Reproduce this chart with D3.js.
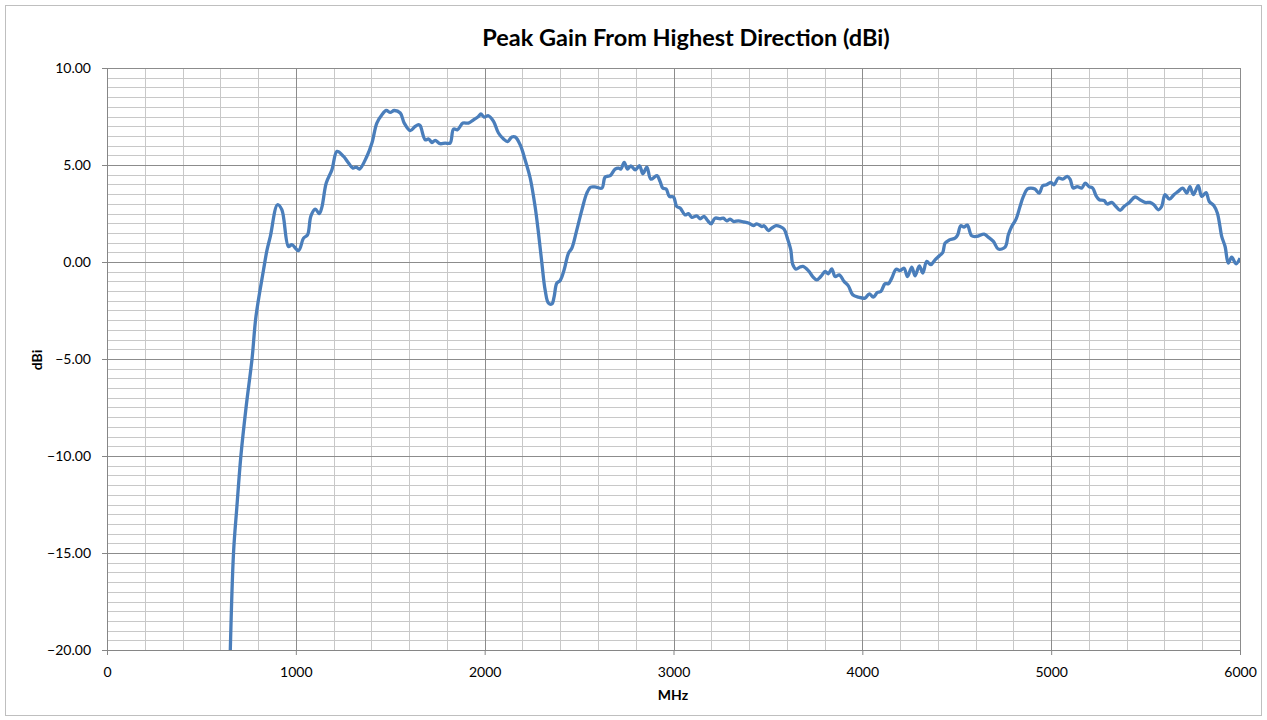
<!DOCTYPE html>
<html>
<head>
<meta charset="utf-8">
<script src="https://cdn.jsdelivr.net/npm/d3@7"></script>
<style>
  body { margin: 0; background: #fff; }
  text { font-family: Lato, 'Open Sans', sans-serif; fill: #000; }
</style>
</head>
<body>
<div id="chart"></div>
<script>
// frequency (MHz) and peak gain (dBi)
let mhz = [
  653, 670, 688, 709, 737, 768, 789, 829, 847, 865, 903, 926, 961, 979, 1014,
  1041, 1062, 1080, 1103, 1124, 1138, 1161, 1191, 1218, 1253, 1279, 1302, 1320,
  1337, 1376, 1403, 1429, 1456, 1479, 1500, 1521, 1553, 1574, 1606, 1632, 1650,
  1659, 1685, 1703, 1721, 1738, 1764, 1791, 1817, 1835, 1856, 1885, 1914, 1941,
  1967, 1980, 1997, 2020, 2047, 2073, 2100, 2121, 2144, 2162, 2188, 2214, 2241,
  2267, 2285, 2303, 2320, 2338, 2356, 2368, 2382, 2400, 2421, 2444, 2462, 2488,
  2515, 2541, 2562, 2590, 2621, 2638, 2665, 2691, 2709, 2721, 2739, 2756, 2774,
  2797, 2820, 2838, 2859, 2880, 2912, 2929, 2943, 2961, 2978, 3000, 3017, 3035,
  3061, 3079, 3097, 3123, 3141, 3162, 3180, 3199, 3220, 3247, 3264, 3282, 3300,
  3317, 3344, 3370, 3397, 3423, 3441, 3468, 3480, 3503, 3520, 3543, 3564, 3585,
  3603, 3621, 3632, 3649, 3670, 3685, 3714, 3737, 3759, 3780, 3803, 3820, 3838,
  3856, 3878, 3903, 3926, 3949, 3979, 4014, 4037, 4058, 4080, 4098, 4120, 4138,
  4156, 4179, 4200, 4221, 4239, 4262, 4279, 4302, 4320, 4341, 4362, 4385, 4408,
  4426, 4438, 4461, 4491, 4505, 4521, 4539, 4556, 4579, 4606, 4645, 4667, 4694,
  4720, 4756, 4773, 4791, 4814, 4835, 4853, 4874, 4892, 4914, 4937, 4955, 4976,
  4998, 5015, 5038, 5061, 5085, 5100, 5117, 5138, 5162, 5180, 5200, 5220, 5238,
  5255, 5280, 5297, 5321, 5343, 5365, 5386, 5414, 5444, 5470, 5497, 5523, 5544,
  5567, 5585, 5603, 5626, 5650, 5673, 5697, 5718, 5735, 5753, 5779, 5797, 5820,
  5837, 5862, 5880, 5894, 5903, 5921, 5938, 5956, 5979, 6000
]
let gain = [
  -20, -15, -12.6, -10, -7.45, -5, -2.8, -0.4, 0.6, 1.32, 2.95, 2.69, 0.8, 0.89, 0.59,
  1.23, 1.4, 2.38, 2.73, 2.49, 2.83, 4.07, 4.75, 5.7, 5.44, 5.1, 4.84, 4.89,
  4.79, 5.44, 6.13, 7.16, 7.59, 7.81, 7.71, 7.81, 7.68, 7.16, 6.77, 6.99, 7.08,
  7.02, 6.3, 6.34, 6.16, 6.27, 6.1, 6.13, 6.13, 6.85, 6.82, 7.16, 7.16, 7.33,
  7.5, 7.63, 7.47, 7.54, 7.25, 6.65, 6.34, 6.21, 6.44, 6.44, 6.04, 5.27, 4.33,
  2.86, 1.49, -0.06, -1.43, -2.12, -2.16, -1.78, -1.09, -0.95, -0.4, 0.46, 0.72, 1.66,
  2.69, 3.55, 3.86, 3.86, 3.81, 4.38, 4.45, 4.79, 4.84, 4.79, 5.13, 4.79, 4.96,
  4.75, 4.96, 4.55, 4.89, 4.27, 4.45, 4.15, 3.81, 3.76, 3.38, 3.35, 2.86, 2.78,
  2.43, 2.49, 2.3, 2.38, 2.23, 2.35, 2.14, 1.97, 2.26, 2.23, 2.26, 2.12, 2.21,
  2.09, 2.12, 2.07, 2.01, 1.88, 1.97, 1.83, 1.87, 1.62, 1.75, 1.87, 1.83, 1.7,
  1.23, 0.63, -0.14, -0.37, -0.26, -0.23, -0.44, -0.75, -0.92, -0.75, -0.49, -0.61, -0.35,
  -0.75, -0.66, -1.0, -1.23, -1.69, -1.81, -1.86, -1.64, -1.81, -1.57, -1.52, -1.12, -1.12,
  -0.83, -0.37, -0.44, -0.32, -0.75, -0.26, -0.71, -0.2, -0.57, 0.03, -0.14, 0.11, 0.32,
  0.49, 0.97, 1.14, 1.23, 1.4, 1.87, 1.8, 1.9, 1.35, 1.32, 1.44, 1.28, 1.06,
  0.67, 0.77, 1.4, 1.83, 2.21, 2.86, 3.38, 3.76, 3.81, 3.76, 3.55, 3.93, 3.98,
  4.1, 3.98, 4.33, 4.27, 4.41, 4.27, 3.81, 3.89, 3.81, 4.07, 3.89, 3.81, 3.41,
  3.21, 3.17, 2.99, 3.07, 2.86, 2.66, 2.86, 3.07, 3.35, 3.21, 3.07, 3.07, 2.95,
  2.69, 2.86, 3.47, 3.24, 3.47, 3.64, 3.81, 3.55, 3.89, 3.47, 3.93, 3.38, 3.58,
  3.12, 2.9, 2.52, 1.83, 1.32, 0.8, -0.06, 0.25, -0.09, 0.2
]

let xTicks = [0, 1000, 2000, 3000, 4000, 5000, 6000]
let yTicks = [-20, -15, -10, -5, 0, 5, 10]

let svgWidth = 1267
let svgHeight = 720
let margin = { top: 68, left: 107, right: 27, bottom: 70 }
let width = svgWidth - margin.left - margin.right
let height = svgHeight - margin.top - margin.bottom

let root = d3
  .select('#chart')
  .append('svg')
  .attr('width', svgWidth)
  .attr('height', svgHeight)

// chart border
root
  .append('rect')
  .attr('x', 5.5)
  .attr('y', 5.5)
  .attr('width', 1256)
  .attr('height', 710)
  .attr('fill', '#fff')
  .attr('stroke', '#bfbfbf')

let svg = root
  .append('g')
  .attr('transform', 'translate(' + margin.left + ',' + margin.top + ')')

let xPositionScale = d3.scaleLinear().domain([0, 6000]).range([0, width])
let yPositionScale = d3.scaleLinear().domain([-20, 10]).range([height, 0])

let crisp = v => Math.round(v) + 0.5

// minor gridlines
svg
  .append('g')
  .selectAll('line')
  .data(d3.range(200, 6000, 200).filter(d => d % 1000 !== 0))
  .enter()
  .append('line')
  .attr('x1', d => crisp(xPositionScale(d)))
  .attr('x2', d => crisp(xPositionScale(d)))
  .attr('y1', 0)
  .attr('y2', height)
  .attr('stroke', '#c8c8c8')

svg
  .append('g')
  .selectAll('line')
  .data(d3.range(-19.5, 10, 0.5).filter(d => d % 5 !== 0))
  .enter()
  .append('line')
  .attr('x1', 0)
  .attr('x2', width)
  .attr('y1', d => crisp(yPositionScale(d)))
  .attr('y2', d => crisp(yPositionScale(d)))
  .attr('stroke', '#c8c8c8')

// major gridlines
svg
  .append('g')
  .selectAll('line')
  .data(xTicks.slice(1))
  .enter()
  .append('line')
  .attr('x1', d => crisp(xPositionScale(d)))
  .attr('x2', d => crisp(xPositionScale(d)))
  .attr('y1', 0)
  .attr('y2', height)
  .attr('stroke', '#8c8c8c')

svg
  .append('g')
  .selectAll('line')
  .data(yTicks.slice(1))
  .enter()
  .append('line')
  .attr('x1', 0)
  .attr('x2', width)
  .attr('y1', d => crisp(yPositionScale(d)))
  .attr('y2', d => crisp(yPositionScale(d)))
  .attr('stroke', '#8c8c8c')

// axes
let xAxis = d3
  .axisBottom(xPositionScale)
  .tickValues(xTicks)
  .tickFormat(d3.format('d'))
  .tickSizeInner(5)
  .tickSizeOuter(0)
  .tickPadding(12)

let yAxis = d3
  .axisLeft(yPositionScale)
  .tickValues(yTicks)
  .tickFormat(d3.format('.2f'))
  .tickSizeInner(5)
  .tickSizeOuter(0)
  .tickPadding(11)

svg
  .append('g')
  .attr('class', 'axis x-axis')
  .attr('transform', 'translate(0,' + height + ')')
  .call(xAxis)

svg
  .append('g')
  .attr('class', 'axis y-axis')
  .call(yAxis)

svg.selectAll('.axis path, .axis line').attr('stroke', '#868686')
svg
  .selectAll('.axis text')
  .attr('font-size', 14)
  .attr('font-family', 'Lato, sans-serif')
  .attr('fill', '#000')

// data line
svg
  .append('clipPath')
  .attr('id', 'plot-clip')
  .append('rect')
  .attr('width', width)
  .attr('height', height)

let line = d3
  .line()
  .x((d, i) => xPositionScale(mhz[i]))
  .y(d => yPositionScale(d))
  .curve(d3.curveCatmullRom.alpha(0.5))

svg
  .append('path')
  .datum(gain)
  .attr('clip-path', 'url(#plot-clip)')
  .attr('d', line)
  .attr('fill', 'none')
  .attr('stroke', '#4a7ebb')
  .attr('stroke-width', 3.3)
  .attr('stroke-linejoin', 'round')

// titles
root
  .append('text')
  .attr('x', 686)
  .attr('y', 46)
  .attr('text-anchor', 'middle')
  .attr('font-size', 23.5)
  .attr('font-weight', 'bold')
  .text('Peak Gain From Highest Direction (dBi)')

root
  .append('text')
  .attr('x', 673)
  .attr('y', 700)
  .attr('text-anchor', 'middle')
  .attr('font-size', 14)
  .attr('font-weight', 'bold')
  .text('MHz')

root
  .append('text')
  .attr('transform', 'translate(42,360) rotate(-90)')
  .attr('text-anchor', 'middle')
  .attr('font-size', 14)
  .attr('font-weight', 'bold')
  .text('dBi')
</script>
</body>
</html>
